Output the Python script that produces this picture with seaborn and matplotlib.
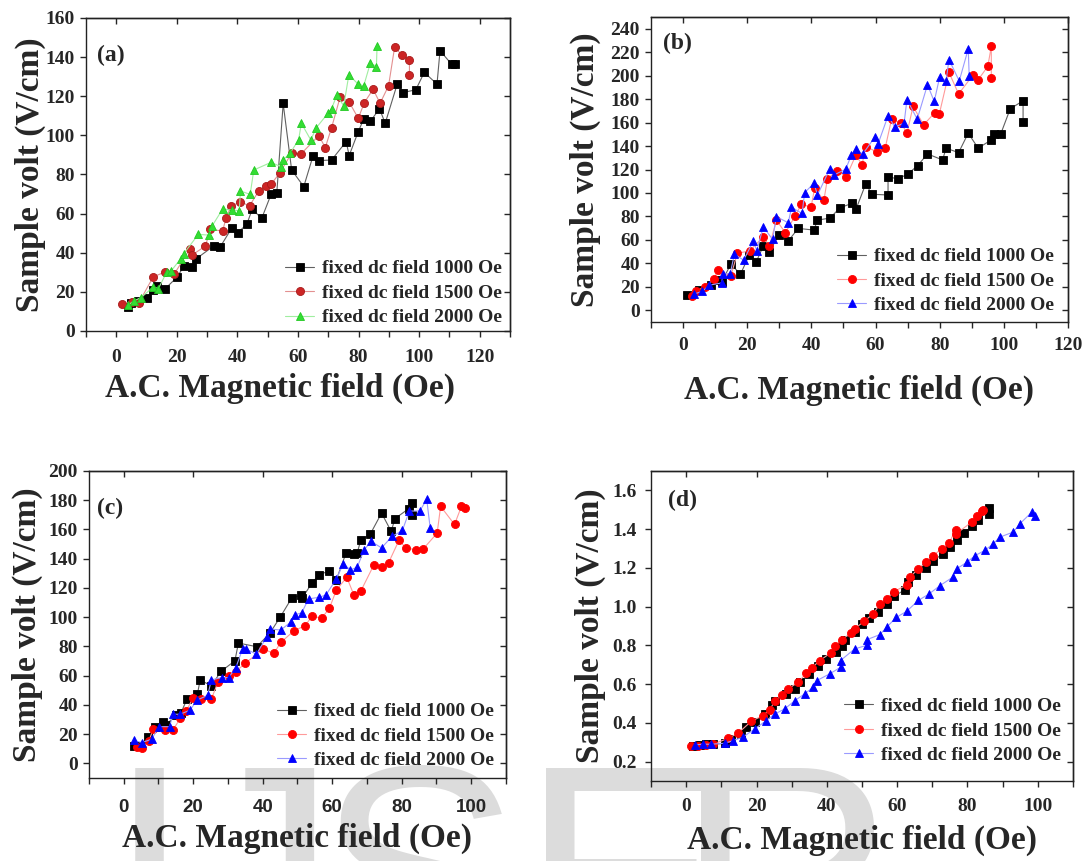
import matplotlib
matplotlib.use("Agg")
import matplotlib.pyplot as plt
import seaborn as sns
from matplotlib.ticker import MultipleLocator, FormatStrFormatter

sns.set_style("ticks")
plt.rcParams["font.family"] = ["Liberation Serif", "DejaVu Serif"]
plt.rcParams["font.weight"] = "bold"
plt.rcParams["axes.labelweight"] = "bold"

LABELS = ["fixed dc field 1000 Oe", "fixed dc field 1500 Oe", "fixed dc field 2000 Oe"]
XLABEL = "A.C. Magnetic field (Oe)"
YLABEL = "Sample volt (V/cm)"
WATERMARK = ["I", "J", "S", "E", "R"]

# ---------------- panel (a) ----------------
a_x_1000 = [3.7, 5, 7, 10, 12.2, 13.4, 16.2, 20.2, 22.3, 25.1, 26.2, 32.2, 34.2, 38.2, 40.1, 43.1,
            44.9, 48, 51.1, 53, 55.1, 57.9, 61.9, 65, 66.9, 71.1, 75.9, 76.9, 79.9, 81.7, 83.9,
            86.9, 88.8, 92.8, 94.7, 98.9, 101.7, 105.9, 106.9, 110.7, 111.9]
a_y_1000 = [12.3, 14.2, 15.2, 17, 20.8, 22.9, 21.7, 27.7, 33.3, 32.8, 36.7, 43.5, 42.7, 52.8, 50.2,
            54.6, 62.3, 57.5, 69.8, 70.7, 116.3, 82.3, 73.8, 89.7, 87.1, 87.4, 96.8, 89.7, 101.9,
            108.4, 107.2, 113.6, 106.2, 126.4, 121.9, 123.3, 132.2, 126.2, 143.3, 136.4, 136.4]
a_x_1500 = [1.9, 5.1, 7.4, 12.2, 16.2, 19.1, 24.2, 25, 29.4, 31.1, 35.1, 36.2, 37.9, 41, 44, 47.1,
            49.4, 51.1, 53.9, 57.9, 61.1, 66.9, 69, 71.1, 73.9, 76.8, 79.9, 81.9, 84.8, 87.1,
            89.9, 91.9, 94.2, 96.8, 96.8]
a_y_1500 = [13.7, 14.9, 14.3, 27.7, 30.2, 29.0, 41.7, 38.8, 43.4, 51.9, 51.1, 57.5, 63.9, 65.9, 64,
            71.7, 74.1, 75, 80.6, 90.9, 90.7, 99.9, 93.7, 104, 119.5, 117.3, 108.7, 116.7, 123.6,
            116.4, 125.3, 145, 141.3, 138.7, 131]
a_x_2000 = [3.7, 6, 8.2, 12.2, 13.9, 16.7, 18.1, 21.3, 22.3, 27.1, 30.5, 31.6, 35.1, 38.3, 40.6, 41,
            44.2, 45.4, 51.1, 54.3, 55.1, 57.5, 60.2, 61.1, 64.2, 66.1, 69.9, 71.1, 72.8, 75.1,
            76.8, 79.7, 81.7, 83.9, 85.9, 86.1]
a_y_2000 = [13.1, 15.5, 17.1, 22.5, 21.7, 30.2, 30.7, 37, 39.6, 49.4, 49, 53.6, 62.3, 61.8, 61.5,
            71.6, 69.8, 82.3, 86.2, 84, 87.4, 91.2, 97.7, 106.2, 97.7, 104, 111.3, 113.7, 120.4,
            115.1, 131, 126.4, 125.3, 137, 135.2, 145.5]

# ---------------- panel (b) ----------------
b_x_1000 = [1.2, 4.9, 8.8, 10.9, 12, 14.9, 17.9, 20.6, 22.8, 25, 26.9, 29.8, 32.8, 35.9, 40.8, 41.9,
            45.8, 48.9, 52.7, 53.9, 56.9, 59, 63.9, 63.9, 66.9, 70, 73.1, 76.2, 80.9, 82, 85.9,
            88.9, 92, 96.1, 97, 99, 102, 106, 106]
b_y_1000 = [12.8, 17.1, 21.4, 26.2, 24.2, 39.3, 30.8, 47, 41.3, 54.7, 49.8, 64.1, 59.2, 69.8, 68.4,
            76.9, 78.6, 87.4, 91.2, 86.1, 107.4, 98.9, 98.3, 113.9, 112, 116, 123.3, 133.3, 128.2,
            138.2, 134.4, 151, 138.2, 145.3, 150.1, 150.1, 171.8, 178.6, 160.9]
b_x_1500 = [2.8, 4.1, 6.8, 9.6, 10.9, 14.9, 16.9, 20.8, 25, 26.9, 29.1, 31.9, 34.9, 36.9, 39.9, 41,
            43.9, 45, 48, 50.9, 53.9, 55.8, 56.9, 60.6, 63, 65, 68, 69.8, 71.7, 75, 78.5, 79.9,
            82.9, 85.9, 90.5, 91.9, 95, 96.1, 96.1]
b_y_1500 = [12.5, 16.5, 19.9, 26.5, 34.2, 29.3, 48.5, 50.7, 62.7, 54.7, 76.7, 66.1, 80.3, 90.6, 87.8,
            104, 93.8, 112, 119.1, 113.9, 132.5, 123.9, 139.6, 134.8, 138.2, 163, 159.6, 151,
            173.8, 158.1, 168.6, 167.5, 202.8, 184.4, 201, 196.1, 208, 225, 198]
b_x_2000 = [3.3, 6, 8.2, 12, 12.5, 14.7, 16, 18.9, 21.9, 23, 25, 27.9, 29.1, 32.8, 33.8, 37.1, 37.9,
            40.8, 41.9, 45.7, 47.1, 50.7, 52.5, 53.9, 56, 59.9, 60.8, 63.9, 66, 68.9, 69.8, 73,
            76.2, 78.3, 80, 82, 82.9, 86.1, 88.9, 89.2]
b_y_2000 = [13.7, 16.2, 21.4, 23.3, 30.8, 31.3, 47.9, 42.7, 59.2, 50.7, 71.2, 60.4, 79.8, 74.6, 87.8,
            82.6, 100.3, 108.3, 98.3, 120.3, 115.4, 120.3, 132.5, 137.3, 133.1, 148.1, 141.9,
            165.8, 156.2, 159.6, 179.5, 163, 192.3, 178, 198.9, 195.7, 213.7, 195.5, 222.8, 200]

# ---------------- panel (c) ----------------
c_x_1000 = [3, 5, 7, 9, 11.2, 12.2, 15, 16.5, 18.2, 21.2, 22, 25.2, 28, 32, 33, 38.3, 42, 45, 48.3,
            51, 51.3, 54.2, 56.2, 59, 61.2, 64, 66.2, 67.2, 68.2, 71, 74.2, 77, 78, 82, 83, 83]
c_y_1000 = [11.9, 11.9, 18.1, 24.9, 28.3, 26.3, 33, 34.7, 43.9, 47.3, 57.1, 53, 62.9, 70.2, 82.3,
            79.8, 88.9, 99.9, 112.9, 115.2, 112.9, 123.4, 129.1, 131.4, 125.7, 144, 143.3, 144,
            152.5, 157, 171.2, 158.6, 167.3, 174.2, 178, 169.6]
c_x_1500 = [3.8, 5.3, 7.2, 8.5, 12, 14.2, 16.3, 18, 20, 22.2, 25.2, 27.2, 30.2, 32.2, 35, 40.2,
            43.2, 45.2, 49, 52.2, 54.2, 57, 59.2, 61.2, 64.2, 66.2, 68.2, 72, 74.2, 76.2, 79.2,
            81.2, 84.2, 86.2, 90.2, 91.2, 95.2, 97.2, 98.2]
c_y_1500 = [11.4, 10.7, 15.3, 23.3, 22.9, 22.9, 30.9, 35.9, 45, 44.3, 43.9, 56, 59.9, 62.6, 68.6,
            78.2, 75.2, 82.7, 90.7, 94.2, 100.6, 99.4, 106.1, 118.6, 127.3, 115.4, 117.7, 135.8,
            134.6, 137.1, 152.5, 147.4, 146.1, 146.7, 157.5, 175.8, 163.4, 175.8, 174.9]
c_x_2000 = [3, 5.2, 8, 10.2, 13.2, 14.2, 16.2, 19, 21.2, 24.2, 25.2, 28.2, 30.2, 32.2, 34.2, 35.2,
            38.2, 41.2, 42.2, 45.2, 48.2, 49.2, 51.2, 53.2, 56.2, 58.2, 61.2, 63.2, 65.2, 67.2,
            69.2, 71.2, 74.2, 77.2, 80.2, 82.2, 85.2, 87.2, 88.2]
c_y_2000 = [15.8, 14.2, 16.5, 25.1, 25.1, 33.6, 33.6, 36.3, 43.4, 46.6, 57.1, 58.7, 58.7, 65.1,
            78.2, 78.2, 74.7, 86.6, 91.9, 91.2, 96.9, 101.7, 102.9, 112.5, 113.6, 115.2, 126.2,
            136.5, 132.3, 134.2, 146.1, 151.8, 147.4, 155.2, 159.3, 172.6, 172.6, 180.6, 160.9]

# ---------------- panel (d) ----------------
d_x_1000 = [1.9, 3.8, 5.7, 7.6, 10.9, 12.8, 15.7, 16.9, 19.5, 22.5, 24.5, 25.2, 28.5, 30.9, 32.5,
            34.9, 37.5, 39.9, 42.5, 44.2, 45.3, 47.9, 50.1, 52, 54.5, 57, 59.1, 62.2, 63.1, 65.3,
            68.1, 70.2, 72.9, 75, 76.9, 79, 81.2, 83.1, 86.1, 86.1]
d_y_1000 = [0.283, 0.288, 0.29, 0.29, 0.294, 0.317, 0.343, 0.377, 0.405, 0.445, 0.49, 0.515, 0.55,
            0.575, 0.61, 0.653, 0.695, 0.73, 0.765, 0.796, 0.829, 0.868, 0.908, 0.942, 0.975,
            1.015, 1.054, 1.087, 1.126, 1.164, 1.2, 1.235, 1.273, 1.307, 1.345, 1.379, 1.414,
            1.445, 1.51, 1.476]
d_x_1500 = [1.4, 3.3, 5.7, 7.6, 11.9, 14.7, 18.5, 21.8, 23.7, 25.2, 27.2, 29, 31.8, 34.2, 35.8, 38,
            41.1, 42.3, 44.2, 47, 47.9, 50.6, 53.2, 55.1, 57, 59.1, 62.9, 63.6, 66, 68.2, 70.1,
            72.8, 74.8, 76.7, 76.7, 81.2, 82.8, 84, 84.5]
d_y_1500 = [0.283, 0.28, 0.287, 0.29, 0.32, 0.346, 0.408, 0.438, 0.467, 0.511, 0.545, 0.575, 0.61,
            0.656, 0.685, 0.722, 0.761, 0.796, 0.829, 0.865, 0.885, 0.925, 0.963, 1.015, 1.04,
            1.078, 1.114, 1.152, 1.195, 1.229, 1.264, 1.299, 1.33, 1.398, 1.375, 1.437, 1.47,
            1.494, 1.5]
d_x_2000 = [2.4, 4.8, 7.2, 10.9, 13.3, 16.1, 19.5, 22.8, 25.2, 28, 30.9, 33.7, 36.1, 37.1, 40.8,
            43.9, 43.9, 47.9, 51.3, 51.3, 55.1, 57, 59.8, 62.7, 66, 69.1, 72.2, 75.8, 76.9, 79.8,
            82.2, 84.9, 87.3, 89.2, 93, 94.9, 98.3, 99.2]
d_y_2000 = [0.286, 0.29, 0.29, 0.295, 0.308, 0.326, 0.369, 0.412, 0.446, 0.472, 0.515, 0.55, 0.584,
            0.618, 0.653, 0.687, 0.722, 0.782, 0.8, 0.829, 0.856, 0.894, 0.945, 0.976, 1.032,
            1.066, 1.109, 1.152, 1.195, 1.229, 1.264, 1.29, 1.324, 1.359, 1.385, 1.428, 1.488,
            1.47]

fig = plt.figure(figsize=(10.89, 8.61), dpi=100, facecolor="white")

# watermark letters (light grey, behind the transparent axes)
for ch, fx in zip(WATERMARK, [0.0983, 0.168, 0.290, 0.478, 0.621]):
    fig.text(fx, -0.137, ch, fontsize=220, color="#dcdcdc", family="Liberation Sans",
             weight="normal", ha="left", va="baseline", zorder=-10)

panels = [
    dict(rect=[0.0790, 0.6156, 0.3893, 0.3635], letter="(a)", lx=0.026, ly=0.915,
         xlim=(-10, 130), ylim=(0, 160), xmax=120, ystep=20, yfmt="%d", xlab_x=0.458,
         series=[(a_x_1000, a_y_1000), (a_x_1500, a_y_1500), (a_x_2000, a_y_2000)],
         styles=[("s", "#000000", "#000000", "#606060"),
                 ("o", "#cc2525", "#a81a1a", "#e39090"),
                 ("^", "#33dd33", "#22c922", "#a0eea0")],
         xpad=9, ypad=4, xlabpad=5, ylabpad=0, legend_anchor=(1.0, -0.01), xsans=False),
    dict(rect=[0.5978, 0.6260, 0.3829, 0.3542], letter="(b)", lx=0.029, ly=0.948,
         xlim=(-10, 120), ylim=(-10, 250), xmax=120, ystep=20, yfmt="%d", xlab_x=0.5,
         series=[(b_x_1000, b_y_1000), (b_x_1500, b_y_1500), (b_x_2000, b_y_2000)],
         styles=[("s", "#000000", "#000000", "#606060"),
                 ("o", "#ff0000", "#ff0000", "#ff9a9a"),
                 ("^", "#0000ff", "#0000ff", "#9a9aff")],
         xpad=7, ypad=4, xlabpad=15, ylabpad=7, legend_anchor=(0.985, 0.0), xsans=False),
    dict(rect=[0.0817, 0.0964, 0.3829, 0.3566], letter="(c)", lx=0.019, ly=0.912,
         xlim=(-10, 110), ylim=(-10, 200), xmax=100, ystep=20, yfmt="%d", xlab_x=0.5,
         series=[(c_x_1000, c_y_1000), (c_x_1500, c_y_1500), (c_x_2000, c_y_2000)],
         styles=[("s", "#000000", "#000000", "#606060"),
                 ("o", "#ff0000", "#ff0000", "#ff9a9a"),
                 ("^", "#0000ff", "#0000ff", "#9a9aff")],
         xpad=11, ypad=4, xlabpad=5, ylabpad=4, legend_anchor=(0.99, 0.003), xsans=True),
    dict(rect=[0.5978, 0.0929, 0.3875, 0.3600], letter="(d)", lx=0.04, ly=0.939,
         xlim=(-10, 110), ylim=(0.1, 1.7), xmax=100, ystep=0.2, yfmt="%.1f", xlab_x=0.5,
         series=[(d_x_1000, d_y_1000), (d_x_1500, d_y_1500), (d_x_2000, d_y_2000)],
         styles=[("s", "#000000", "#000000", "#606060"),
                 ("o", "#ff0000", "#ff0000", "#ff9a9a"),
                 ("^", "#0000ff", "#0000ff", "#9a9aff")],
         xpad=8, ypad=6, xlabpad=7, ylabpad=5, legend_anchor=(0.99, 0.03), xsans=False),
]

for p in panels:
    ax = fig.add_axes(p["rect"])
    ax.set_facecolor("none")
    for (xs, ys), (mk, fc, ec, lc), lab in zip(p["series"], p["styles"], LABELS):
        sns.lineplot(x=xs, y=ys, ax=ax, estimator=None, sort=False, color=lc,
                     linewidth=0.8, marker=mk, markersize=5.8, markerfacecolor=fc,
                     markeredgecolor=ec, markeredgewidth=0.6, label=lab)
    ax.set_xlim(*p["xlim"])
    ax.set_ylim(*p["ylim"])
    ax.yaxis.set_major_locator(MultipleLocator(p["ystep"]))
    ax.yaxis.set_major_formatter(FormatStrFormatter(p["yfmt"]))
    xt = [t for t in range(0, p["xmax"] + 1, 20)]
    ax.set_xticks(xt)
    ax.set_xticklabels([str(t) for t in xt])
    ax.xaxis.set_minor_locator(MultipleLocator(10))
    ax.tick_params(axis="x", which="both", direction="out", length=4, width=1.0,
                   labelsize=14, pad=p["xpad"])
    ax.tick_params(axis="y", which="both", direction="out", length=4, width=1.0,
                   labelsize=14, pad=p["ypad"])
    for lbl in ax.get_xticklabels() + ax.get_yticklabels():
        lbl.set_fontweight("bold")
    if p["xsans"]:
        for lbl in ax.get_xticklabels():
            lbl.set_family("Liberation Sans")
            lbl.set_fontsize(13.5)
    for sp in ax.spines.values():
        sp.set_visible(True)
        sp.set_linewidth(1.0)
        sp.set_color("#222222")
    # mirrored inward ticks on top/right
    top = ax.secondary_xaxis("top")
    top.xaxis.set_major_locator(MultipleLocator(20))
    top.tick_params(direction="in", length=4, width=1.0, labeltop=False)
    top.spines["top"].set_linewidth(1.0)
    right = ax.secondary_yaxis("right")
    right.yaxis.set_major_locator(MultipleLocator(p["ystep"]))
    right.tick_params(direction="in", length=4, width=1.0, labelright=False)
    right.spines["right"].set_linewidth(1.0)

    ax.set_xlabel(XLABEL, fontsize=24, fontweight="bold", labelpad=p["xlabpad"])
    ax.xaxis.label.set_x(p["xlab_x"])
    ax.set_ylabel(YLABEL, fontsize=24, fontweight="bold", labelpad=p["ylabpad"])
    ax.text(p["lx"], p["ly"], p["letter"], transform=ax.transAxes, fontsize=17,
            fontweight="bold", ha="left", va="top")
    ax.legend(loc="lower right", bbox_to_anchor=p["legend_anchor"], frameon=False,
              handlelength=1.5, handletextpad=0.4, labelspacing=0.35,
              borderaxespad=0.2, borderpad=0.2, prop={"weight": "bold", "size": 14})

fig.savefig("out.png", dpi=100, facecolor="white")
